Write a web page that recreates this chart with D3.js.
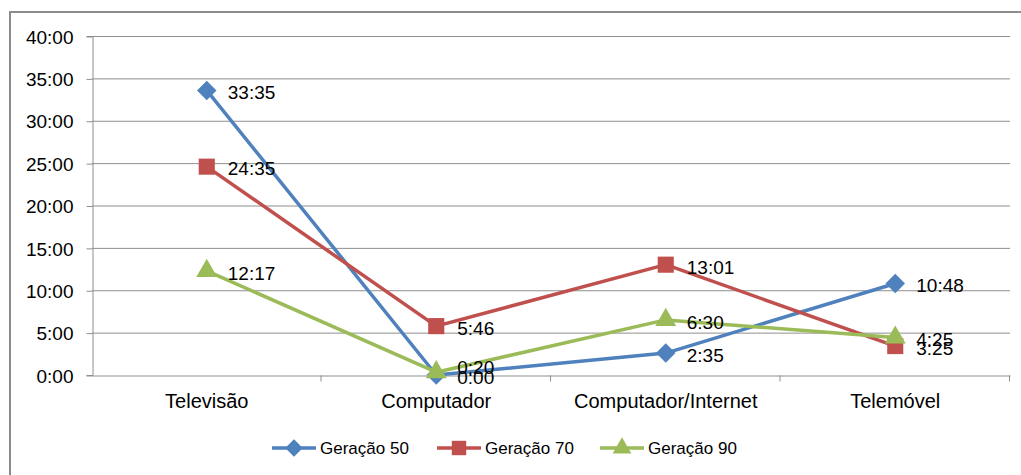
<!DOCTYPE html>
<html>
<head>
<meta charset="utf-8">
<script src="https://cdn.jsdelivr.net/npm/d3@7"></script>
<style>
  body { margin: 0; background: #fff; }
  svg text { font-family: "Liberation Sans", Arial, sans-serif; fill: #000; }
</style>
</head>
<body>
<div id="chart"></div>
<script>
// categories and series (values as h:mm)
const categories = ["Televisão", "Computador", "Computador/Internet", "Telemóvel"];
const seriesNames = ["Geração 50", "Geração 70", "Geração 90"];
const ger50 = ["33:35", "0:00", "2:35", "10:48"];
const ger70 = ["24:35", "5:46", "13:01", "3:25"];
const ger90 = ["12:17", "0:20", "6:30", "4:25"];
const yTicks = ["0:00", "5:00", "10:00", "15:00", "20:00", "25:00", "30:00", "35:00", "40:00"];

const colors = ["#4F81BD", "#C0504D", "#9BBB59"];
const symbols = [d3.symbolSquare, d3.symbolSquare, d3.symbolTriangle];
const rotations = [45, 0, 0];
const markerSizes = [190, 260, 190];

const toHours = s => {
  const [h, m] = s.split(":").map(Number);
  return h + m / 60;
};

const series = [ger50, ger70, ger90].map((vals, i) => ({
  name: seriesNames[i],
  color: colors[i],
  symbol: symbols[i],
  rot: rotations[i],
  size: markerSizes[i],
  values: vals.map((v, j) => ({ cat: categories[j], label: v, value: toHours(v), si: i }))
}));

const width = 1021, height = 475;
const margin = { top: 36, right: 11, bottom: 100, left: 92 };

const svg = d3.select("#chart")
    .append("svg")
    .attr("width", width)
    .attr("height", height);

// outer frame (only top and left visible)
svg.append("path")
    .attr("d", `M10,${height} V12 H${width}`)
    .attr("fill", "none")
    .attr("stroke", "#8c8c8c")
    .attr("stroke-width", 2);

const x = d3.scaleBand()
    .domain(categories)
    .range([margin.left, width - margin.right]);

const y = d3.scaleLinear()
    .domain([0, 40])
    .range([height - margin.bottom, margin.top]);

// gridlines
svg.append("g")
    .selectAll("line")
    .data(yTicks.slice(1))
    .join("line")
    .attr("x1", margin.left)
    .attr("x2", width - margin.right)
    .attr("y1", d => y(toHours(d)) + 0.5)
    .attr("y2", d => y(toHours(d)) + 0.5)
    .attr("stroke", "#8e8e8e")
    .attr("stroke-width", 1);

// y axis
const yAxis = svg.append("g")
    .attr("transform", `translate(${margin.left + 0.5},0)`)
    .call(d3.axisLeft(y)
        .tickValues(yTicks.map(toHours))
        .tickFormat((d, i) => yTicks[i])
        .tickSize(6)
        .tickPadding(13));
yAxis.select(".domain").attr("stroke", "#8e8e8e");
yAxis.selectAll(".tick line").attr("stroke", "#8e8e8e").attr("transform", "translate(0,0.5)");
yAxis.selectAll("text").style("font-size", "19px").attr("dy", "0.38em");

// x axis
const xAxis = svg.append("g")
    .attr("transform", `translate(0,${y(0) + 0.5})`)
    .call(d3.axisBottom(x).tickSize(0).tickPadding(18));
xAxis.select(".domain").attr("stroke", "#8e8e8e");
xAxis.selectAll("text").style("font-size", "20px");
xAxis.selectAll(".boundary")
    .data(categories)
    .join("line")
    .attr("class", "boundary")
    .attr("x1", d => x(d) + x.bandwidth() - 0.5)
    .attr("x2", d => x(d) + x.bandwidth() - 0.5)
    .attr("y1", 0)
    .attr("y2", 6)
    .attr("stroke", "#8e8e8e");

const line = d3.line()
    .x(d => x(d.cat) + x.bandwidth() / 2)
    .y(d => y(d.value));

const g = svg.selectAll(".series")
    .data(series)
    .join("g")
    .attr("class", "series");

g.append("path")
    .attr("d", d => line(d.values))
    .attr("fill", "none")
    .attr("stroke", d => d.color)
    .attr("stroke-width", 3.5)
    .attr("stroke-linejoin", "round");

g.selectAll(".marker")
    .data(d => d.values.map(v => ({ ...v, s: d })))
    .join("path")
    .attr("class", "marker")
    .attr("transform", d => `translate(${x(d.cat) + x.bandwidth() / 2},${y(d.value)}) rotate(${d.s.rot})`)
    .attr("d", d => d3.symbol().type(d.s.symbol).size(d.s.size)())
    .attr("fill", d => d.s.color);

// small vertical nudge for the crowded label at Computador (Geração 90)
const nudge = (d) => (d.si === 2 && d.value < 1) ? -7 : 0;

g.selectAll(".label")
    .data(d => d.values)
    .join("text")
    .attr("class", "label")
    .attr("x", d => x(d.cat) + x.bandwidth() / 2 + 21)
    .attr("y", d => y(d.value) + 2 + nudge(d))
    .attr("dy", "0.36em")
    .style("font-size", "19px")
    .text(d => d.label);

// legend
const legend = svg.append("g")
    .attr("transform", "translate(272,448)");
const offsets = [0, 165, 328];
const item = legend.selectAll("g")
    .data(series)
    .join("g")
    .attr("transform", (d, i) => `translate(${offsets[i]},0)`);
item.append("line")
    .attr("x1", 0).attr("x2", 44)
    .attr("stroke", d => d.color)
    .attr("stroke-width", 3.5);
item.append("path")
    .attr("transform", d => `translate(22,0) rotate(${d.rot})`)
    .attr("d", d => d3.symbol().type(d.symbol).size(d.size * 0.8)())
    .attr("fill", d => d.color);
item.append("text")
    .attr("x", 48)
    .attr("dy", "0.36em")
    .style("font-size", "17px")
    .text(d => d.name);
</script>
</body>
</html>
